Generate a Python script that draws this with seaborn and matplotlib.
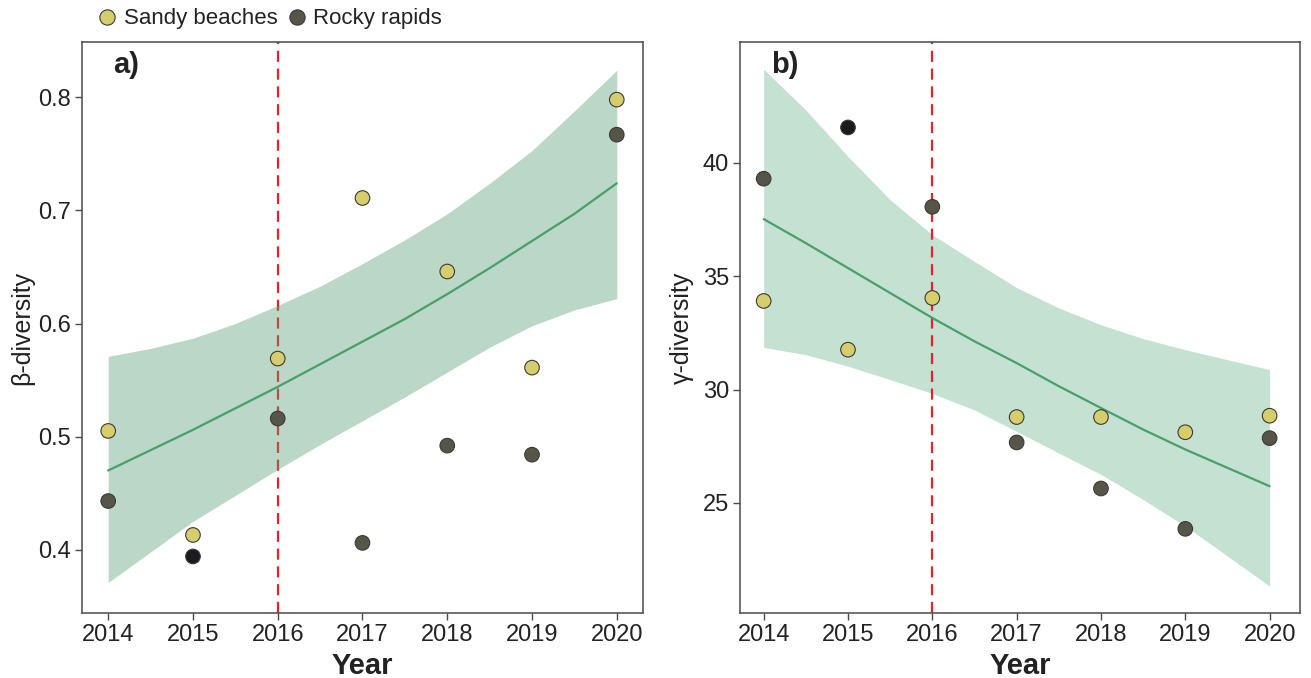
import numpy as np
import pandas as pd
import matplotlib
matplotlib.use("Agg")
import matplotlib.pyplot as plt
from matplotlib.lines import Line2D
import seaborn as sns

# ---------------- data ----------------
years = [2014, 2015, 2016, 2017, 2018, 2019, 2020]
habitats = ["Sandy beaches", "Rocky rapids"]

beta_sandy = [0.505, 0.413, 0.569, 0.711, 0.646, 0.561, 0.798]
beta_rocky = [0.443, 0.394, 0.516, 0.406, 0.492, 0.484, 0.767]

gamma_sandy = [33.91, 31.76, 34.04, 28.79, 28.79, 28.12, 28.85]
gamma_rocky = [39.30, 41.56, 38.06, 27.67, 25.64, 23.86, 27.86]

# fitted trend and confidence band, read every half year
fit_years = [2014, 2014.5, 2015, 2015.5, 2016, 2016.5, 2017,
             2017.5, 2018, 2018.5, 2019, 2019.5, 2020]
beta_fit = [0.470, 0.488, 0.506, 0.525, 0.544, 0.564, 0.584,
            0.604, 0.626, 0.649, 0.673, 0.697, 0.724]
beta_lo = [0.371, 0.398, 0.425, 0.448, 0.471, 0.493, 0.514,
           0.535, 0.557, 0.579, 0.598, 0.612, 0.622]
beta_hi = [0.571, 0.578, 0.587, 0.600, 0.616, 0.633, 0.653,
           0.674, 0.697, 0.724, 0.753, 0.788, 0.824]

gamma_fit = [37.52, 36.46, 35.36, 34.26, 33.16, 32.13, 31.17,
             30.15, 29.19, 28.24, 27.36, 26.55, 25.74]
gamma_lo = [31.86, 31.54, 31.03, 30.44, 29.83, 29.10, 28.16,
            27.20, 26.26, 25.15, 23.98, 22.66, 21.33]
gamma_hi = [44.13, 42.33, 40.28, 38.37, 36.83, 35.65, 34.50,
            33.60, 32.86, 32.25, 31.76, 31.32, 30.88]

highlight_year = 2015   # rocky point drawn in black
break_year = 2016

# ---------------- style ----------------
sns.set_theme(style="ticks")
plt.rcParams["font.family"] = ["Liberation Sans", "DejaVu Sans"]

C_SANDY = "#D6CE6C"
C_ROCKY = "#56554A"
C_BLACK = "#1C1A1C"
C_EDGE = "#3A3A34"
C_LINE = "#4A9E6C"
C_BAND_A = "#579D73"
C_BAND_B = "#C5E1D2"
C_RED = "#E8202A"
C_SPINE = "#4A4A4A"
C_TEXT = "#222222"

fig = plt.figure(figsize=(13.11, 6.78), dpi=100)
ax_a = fig.add_axes([0.0625, 0.0959, 0.4280, 0.8422])
ax_b = fig.add_axes([0.5645, 0.0959, 0.4271, 0.8422])


def make_df(sandy, rocky):
    rows = []
    for y, v in zip(years, sandy):
        rows.append({"Year": y, "value": v, "group": "Sandy beaches"})
    for y, v in zip(years, rocky):
        g = "Rocky black" if y == highlight_year else "Rocky rapids"
        rows.append({"Year": y, "value": v, "group": g})
    return pd.DataFrame(rows)


def panel(ax, sandy, rocky, fit, lo, hi, band_col, band_alpha, band_z, ylim, yticks,
          yticklabels, ylabel, tag, xlim, ylabelpad):
    ax.axvline(break_year, color=C_RED, linestyle=(0, (5, 3)), linewidth=1.6, zorder=2)
    ax.fill_between(fit_years, lo, hi, color=band_col, alpha=band_alpha,
                    linewidth=0, zorder=band_z)
    sns.lineplot(x=fit_years, y=fit, ax=ax, color=C_LINE, linewidth=1.6, zorder=3.5)
    df = make_df(sandy, rocky)
    sns.scatterplot(data=df, x="Year", y="value", hue="group",
                    palette={"Sandy beaches": C_SANDY, "Rocky rapids": C_ROCKY,
                             "Rocky black": C_BLACK},
                    s=110, edgecolor=C_EDGE, linewidth=0.8, ax=ax, zorder=4,
                    legend=False)
    ax.set_xlim(*xlim)
    ax.set_ylim(*ylim)
    ax.set_xticks(years)
    ax.set_xticklabels([str(y) for y in years])
    ax.set_yticks(yticks)
    ax.set_yticklabels(yticklabels)
    ax.tick_params(axis="both", labelsize=17, colors=C_SPINE, labelcolor=C_TEXT,
                   length=5, width=1, direction="out", pad=3)
    for sp in ax.spines.values():
        sp.set_visible(True)
        sp.set_color(C_SPINE)
        sp.set_linewidth(1.1)
    ax.set_xlabel("Year", fontsize=21, fontweight="bold", color=C_TEXT, labelpad=4)
    ax.set_ylabel(ylabel, fontsize=18, color=C_TEXT, labelpad=ylabelpad)
    ax.text(0.055, 0.985, tag, transform=ax.transAxes, fontsize=21,
            fontweight="bold", color=C_TEXT, va="top", ha="left")


panel(ax_a, beta_sandy, beta_rocky, beta_fit, beta_lo, beta_hi, C_BAND_A, 0.40, 3,
      (0.344, 0.849), [0.4, 0.5, 0.6, 0.7, 0.8], ["0.4", "0.5", "0.6", "0.7", "0.8"],
      "β-diversity", "a)", (2013.69, 2020.31), 3)
panel(ax_b, gamma_sandy, gamma_rocky, gamma_fit, gamma_lo, gamma_hi, C_BAND_B, 1.0, 1,
      (20.15, 45.33), [25, 30, 35, 40], ["25", "30", "35", "40"],
      "γ-diversity", "b)", (2013.72, 2020.36), 6)

handles = [Line2D([0], [0], marker="o", linestyle="", markersize=11,
                  markerfacecolor=C_SANDY, markeredgecolor=C_EDGE, markeredgewidth=0.8),
           Line2D([0], [0], marker="o", linestyle="", markersize=11,
                  markerfacecolor=C_ROCKY, markeredgecolor=C_EDGE, markeredgewidth=0.8)]
fig.legend(handles, habitats, loc="center left", bbox_to_anchor=(0.075, 0.972),
           ncol=2, frameon=False, fontsize=16, handlelength=0.8, handletextpad=0.35,
           columnspacing=0.45, borderaxespad=0, borderpad=0, labelcolor=C_TEXT)

fig.savefig("out.png", dpi=100)
